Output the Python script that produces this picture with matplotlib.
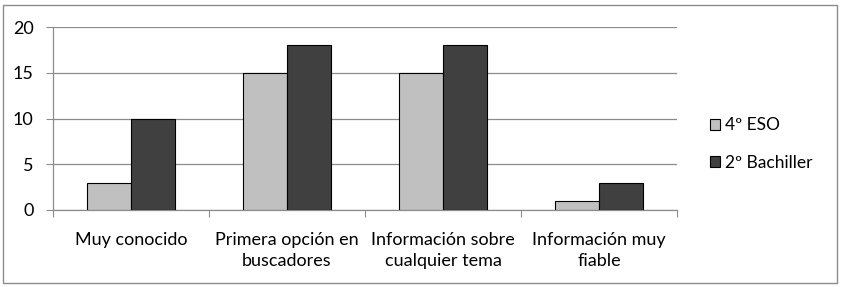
import matplotlib.pyplot as plt
import numpy as np
from matplotlib.patches import Rectangle

categories = ["Muy conocido", "Primera opción en\nbuscadores",
              "Información sobre\ncualquier tema", "Información muy\nfiable"]
series_names = ["4º ESO", "2º Bachiller"]
eso = [3, 15, 15, 1]
bachiller = [10, 18, 18, 3]

plt.rcParams['font.family'] = ['Lato', 'DejaVu Sans']

fig = plt.figure(figsize=(8.41, 2.87), dpi=100)
ax = fig.add_axes([53 / 841, 1 - 210 / 287, 624 / 841, 183 / 287])

x = np.arange(len(categories))
w = 0.285
ax.bar(x - w / 2, eso, w, color="#c0c0c0", edgecolor="black", linewidth=0.8,
       label=series_names[0], zorder=3)
ax.bar(x + w / 2, bachiller, w, color="#404040", edgecolor="black", linewidth=0.8,
       label=series_names[1], zorder=3)

ax.set_xlim(-0.5, len(categories) - 0.5)
ax.set_ylim(0, 20)
ax.set_yticks([0, 5, 10, 15, 20])
ax.yaxis.grid(True, color="#8c8c8c", linewidth=0.9, zorder=0)

ax.set_xticks(np.arange(-0.5, len(categories), 1.0))
ax.set_xticklabels([])
ax.set_xticks(x, minor=True)
ax.set_xticklabels(categories, minor=True, fontsize=13, linespacing=1.35)
ax.tick_params(axis="x", which="minor", length=0, pad=16)
ax.tick_params(axis="x", which="major", length=5, color="#8c8c8c")
ax.tick_params(axis="y", length=5, color="#8c8c8c", labelsize=13, pad=9)

for s in ["top", "right"]:
    ax.spines[s].set_visible(False)
for s in ["left", "bottom"]:
    ax.spines[s].set_color("#8c8c8c")
    ax.spines[s].set_linewidth(0.9)

ax.legend(loc="center left", bbox_to_anchor=(694 / 841, 1 - 144 / 287),
          bbox_transform=fig.transFigure, frameon=False, fontsize=12.5,
          handlelength=0.6, handleheight=0.6, handletextpad=0.3, labelspacing=1.25)

fig.patches.append(Rectangle((3 / 841, 4 / 287), 834 / 841, 278 / 287,
                             transform=fig.transFigure, fill=False,
                             edgecolor="#8c8c8c", linewidth=1))

fig.savefig("out.png", dpi=100)
